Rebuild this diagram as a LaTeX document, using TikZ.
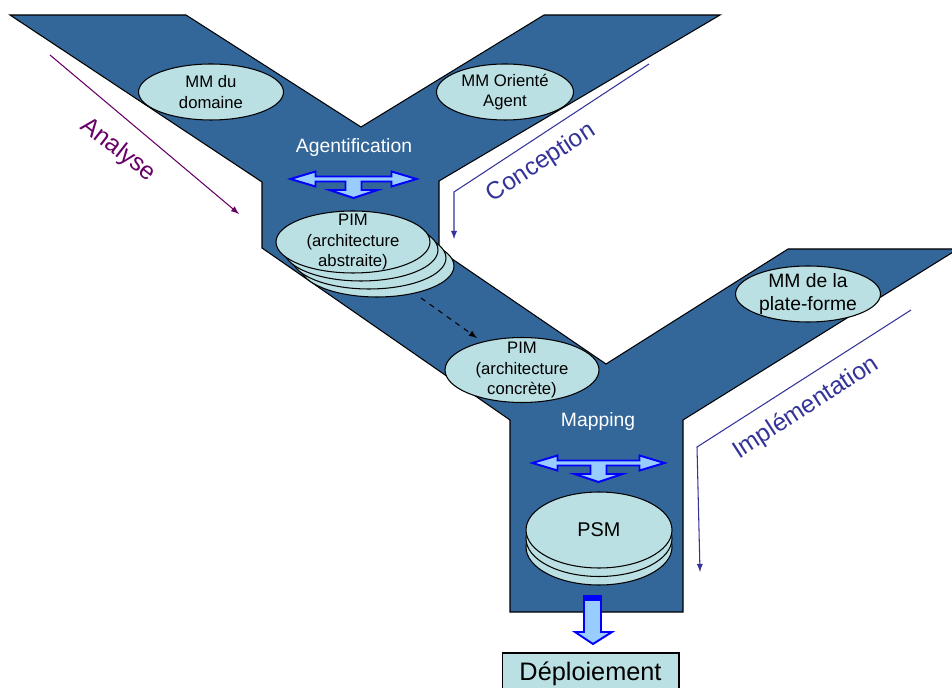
\documentclass[tikz,border=0pt]{standalone}
\usepackage{fontspec}
\setmainfont{Liberation Sans}
\usetikzlibrary{shapes.geometric,positioning}
\definecolor{band}{RGB}{51,102,153}
\definecolor{modelfill}{RGB}{187,224,227}
\definecolor{purp}{RGB}{102,0,102}
\definecolor{indigo}{RGB}{51,51,153}
\definecolor{lightarrow}{RGB}{153,204,255}
\tikzstyle{model}=[ellipse,draw,fill=modelfill,inner sep=-1cm,align=center,font=\fontsize{9.5}{11.8}\selectfont]
\tikzstyle{mm}=[model,minimum width=2.9cm,minimum height=1.12cm]
\tikzstyle{pim}=[model,minimum width=3.08cm,minimum height=1.24cm]
\tikzstyle{psm}=[model,minimum width=2.92cm,minimum height=1.52cm,font=\fontsize{11.3}{13}\selectfont]
\tikzstyle{inlabel}=[text=white,anchor=base,font=\fontsize{11}{13}\selectfont]
\tikzstyle{phase}=[font=\fontsize{14}{16}\selectfont]
\tikzstyle{deploy}=[rectangle,draw,fill=modelfill,minimum width=3.54cm,minimum height=0.82cm,inner sep=0pt,font=\fontsize{14.4}{16}\selectfont]
\tikzstyle{bigarrow}=[draw=blue,fill=lightarrow,line width=1.1pt]
\newcommand{\tarrow}[2][63]{
	\draw[bigarrow,shift={#2}] (-#1,0) -- (-#1+25,-7.5) -- (-#1+25,-2.5) -- (#1-25,-2.5)
		-- (#1-25,-7.5) -- (#1,0) -- (#1-25,7.5) -- (#1-25,2.5) -- (8,2.5) -- (8,11)
		-- (24,11) -- (0,19) -- (-24,11) -- (-8,11) -- (-8,2.5) -- (-#1+25,2.5)
		-- (-#1+25,7.5) -- cycle;
}

\begin{document}
\begin{tikzpicture}[x=0.02cm,y=-0.02cm,line width=0.6pt]
\useasboundingbox (0,0) rectangle (952,688);
% the two Y channels
\draw[fill=band] (10,15) -- (186,15) -- (361,127) -- (544,15) -- (720,15) -- (439,181)
	-- (439,250) -- (606,364) -- (788,249) -- (958,249) -- (683,420) -- (683,612)
	-- (510,612) -- (510,420) -- (262,248) -- (262,182) -- cycle;

% meta-models
\node[mm] (mmd) at (211,92) {MM du\\domaine};
\node[mm,minimum width=2.74cm] (mmo) at (505,92) {MM Orienté\\Agent};
\node[mm,font=\fontsize{11}{13}\selectfont] (mmp) at (808,294) {MM de la\\plate-forme};

% agentification
\node[inlabel] (agent) at (354,153) {Agentification};
\tarrow{(353.5,179)}
\foreach \i in {3,2,1}
	\node[pim] (pa\i) at (353+8*\i,242+8*\i) {};
\node[pim] (pa) at (353,242) {PIM\\(architecture\\abstraite)};
\node[pim,minimum height=1.3cm] (pc) at (522,370) {PIM\\(architecture\\concrète)};
\coordinate (d0) at (421,298);
\coordinate (d1) at (477,338);
\draw[dashed,-latex] (d0) -- (d1);

% mapping
\node[inlabel] (mapping) at (598,427) {Mapping};
\tarrow[66]{(598.5,463)}
\foreach \i in {2,1}
	\node[psm] (ps\i) at (599,530+8.5*\i) {};
\node[psm] (psm) at (599,530) {PSM};

% deployment
\draw[bigarrow] (584,596) -- (601,596) -- (601,632) -- (612,632) -- (593,644)
	-- (575,632) -- (584,632) -- cycle;
\fill[blue] (584,596) rectangle (601,601);
\node[deploy] (deploy) at (590.5,673.5) {Déploiement};

% phases
\node[phase,text=purp,rotate=-38] (analyse) at (118,150) {Analyse};
\coordinate (a0) at (50,55);
\coordinate (a1) at (239,214);
\draw[purp,-latex] (a0) -- (a1);
\node[phase,text=indigo,rotate=33] (concep) at (541,163) {Conception};
\coordinate (c0) at (649,64);
\coordinate (c1) at (454,192);
\coordinate (c2) at (454,239);
\draw[indigo,-latex] (c0) -- (c1) -- (c2);
\node[phase,text=indigo,rotate=33] (implem) at (806,408) {Implémentation};
\coordinate (i0) at (911,310);
\coordinate (i1) at (697,447);
\coordinate (i2) at (700,572);
\draw[indigo,-latex] (i0) -- (i1) -- (i2);
\end{tikzpicture}
\end{document}
